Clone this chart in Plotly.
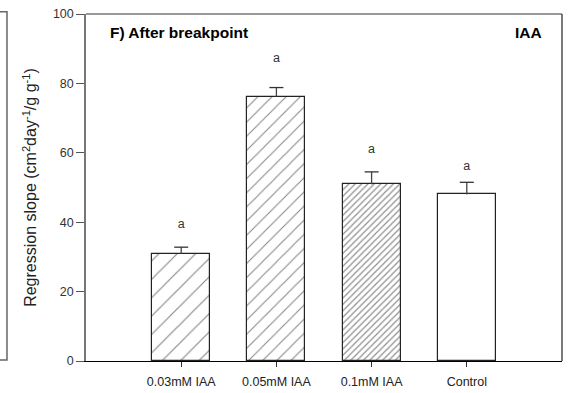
import plotly.graph_objects as go

categories = ["0.03mM IAA", "0.05mM IAA", "0.1mM IAA", "Control"]
values = [30.9, 76.2, 50.9, 48.0]
errors = [1.9, 2.6, 3.6, 3.5]
letters = ["a", "a", "a", "a"]
letter_y = [39.2, 87.0, 60.8, 56.0]
y_ticks = [0, 20, 40, 60, 80, 100]

FONT = "Liberation Sans, Arial, sans-serif"
xs = list(range(len(categories)))

patterns = [
    dict(shape="/", size=13, solidity=0.09, fgcolor="#111", bgcolor="white"),
    dict(shape="/", size=10, solidity=0.11, fgcolor="#111", bgcolor="white"),
    dict(shape="/", size=4.5, solidity=0.28, fgcolor="#222", bgcolor="white"),
    dict(shape="", bgcolor="white"),
]

fig = go.Figure()
for i in xs:
    fig.add_trace(go.Bar(
        x=[xs[i]], y=[values[i]], width=0.61,
        marker=dict(color="white", pattern=patterns[i],
                    line=dict(color="#222", width=1.2)),
        error_y=dict(type="data", array=[errors[i]], arrayminus=[0],
                     symmetric=False, color="#444", thickness=1.3, width=0),
        showlegend=False,
    ))

# error caps (top only)
fig.add_trace(go.Scatter(
    x=xs, y=[v + e for v, e in zip(values, errors)], mode="markers",
    marker=dict(symbol="line-ew", size=10, line=dict(color="#333", width=1.3)),
    showlegend=False, hoverinfo="skip",
))

# significance letters
fig.add_trace(go.Scatter(
    x=xs, y=letter_y, mode="text", text=letters, textposition="middle center",
    textfont=dict(family=FONT, size=12.5, color="#333"),
    showlegend=False, hoverinfo="skip",
))

fig.add_annotation(xref="paper", yref="paper", x=0.046, y=0.948, text="<b>F) After breakpoint</b>",
                   showarrow=False, xanchor="left", yanchor="middle",
                   font=dict(family=FONT, size=15.5, color="black"))
fig.add_annotation(xref="paper", yref="paper", x=0.963, y=0.948, text="<b>IAA</b>",
                   showarrow=False, xanchor="right", yanchor="middle",
                   font=dict(family=FONT, size=15.5, color="black"))

# frame top and right
fig.add_shape(type="line", xref="paper", yref="paper", x0=0, x1=1, y0=1, y1=1,
              line=dict(color="#777", width=1.5))
fig.add_shape(type="line", xref="paper", yref="paper", x0=1, x1=1, y0=0, y1=1,
              line=dict(color="#222", width=1.2))
# neighbouring panel edge at the left
fig.add_shape(type="path", xref="paper", yref="paper",
              path="M -0.2,1.0066 L -0.166,1.0066 L -0.166,0.003 L -0.2,0.003",
              line=dict(color="#666", width=1.5))

fig.update_layout(
    width=571, height=393,
    margin=dict(l=86, r=9, t=14, b=32, autoexpand=False),
    plot_bgcolor="white", paper_bgcolor="white",
    bargap=0,
    font=dict(family=FONT, color="#222"),
    xaxis=dict(range=[-1, 4], tickmode="array", tickvals=xs, ticktext=categories,
               showline=True, linecolor="black", linewidth=1.2,
               ticks="outside", ticklen=5, tickcolor="#333",
               ticklabelstandoff=4, automargin=False,
               showgrid=False, zeroline=False,
               tickfont=dict(family=FONT, size=12.5, color="#222")),
    yaxis=dict(range=[0, 100], tickvals=y_ticks,
               showline=True, linecolor="#777", linewidth=1.5,
               ticks="outside", ticklen=8, tickcolor="#555",
               showgrid=False, zeroline=False, automargin=False,
               tickfont=dict(family=FONT, size=12.5, color="#333"),
               title=dict(text="Regression slope (cm<sup>2</sup>day<sup>-1</sup>/g g<sup>-1</sup>)",
                          font=dict(family=FONT, size=16, color="#222"), standoff=12)),
)

fig.write_html("out.html", config={"displayModeBar": False},
               post_script="document.body.style.margin='0';")
